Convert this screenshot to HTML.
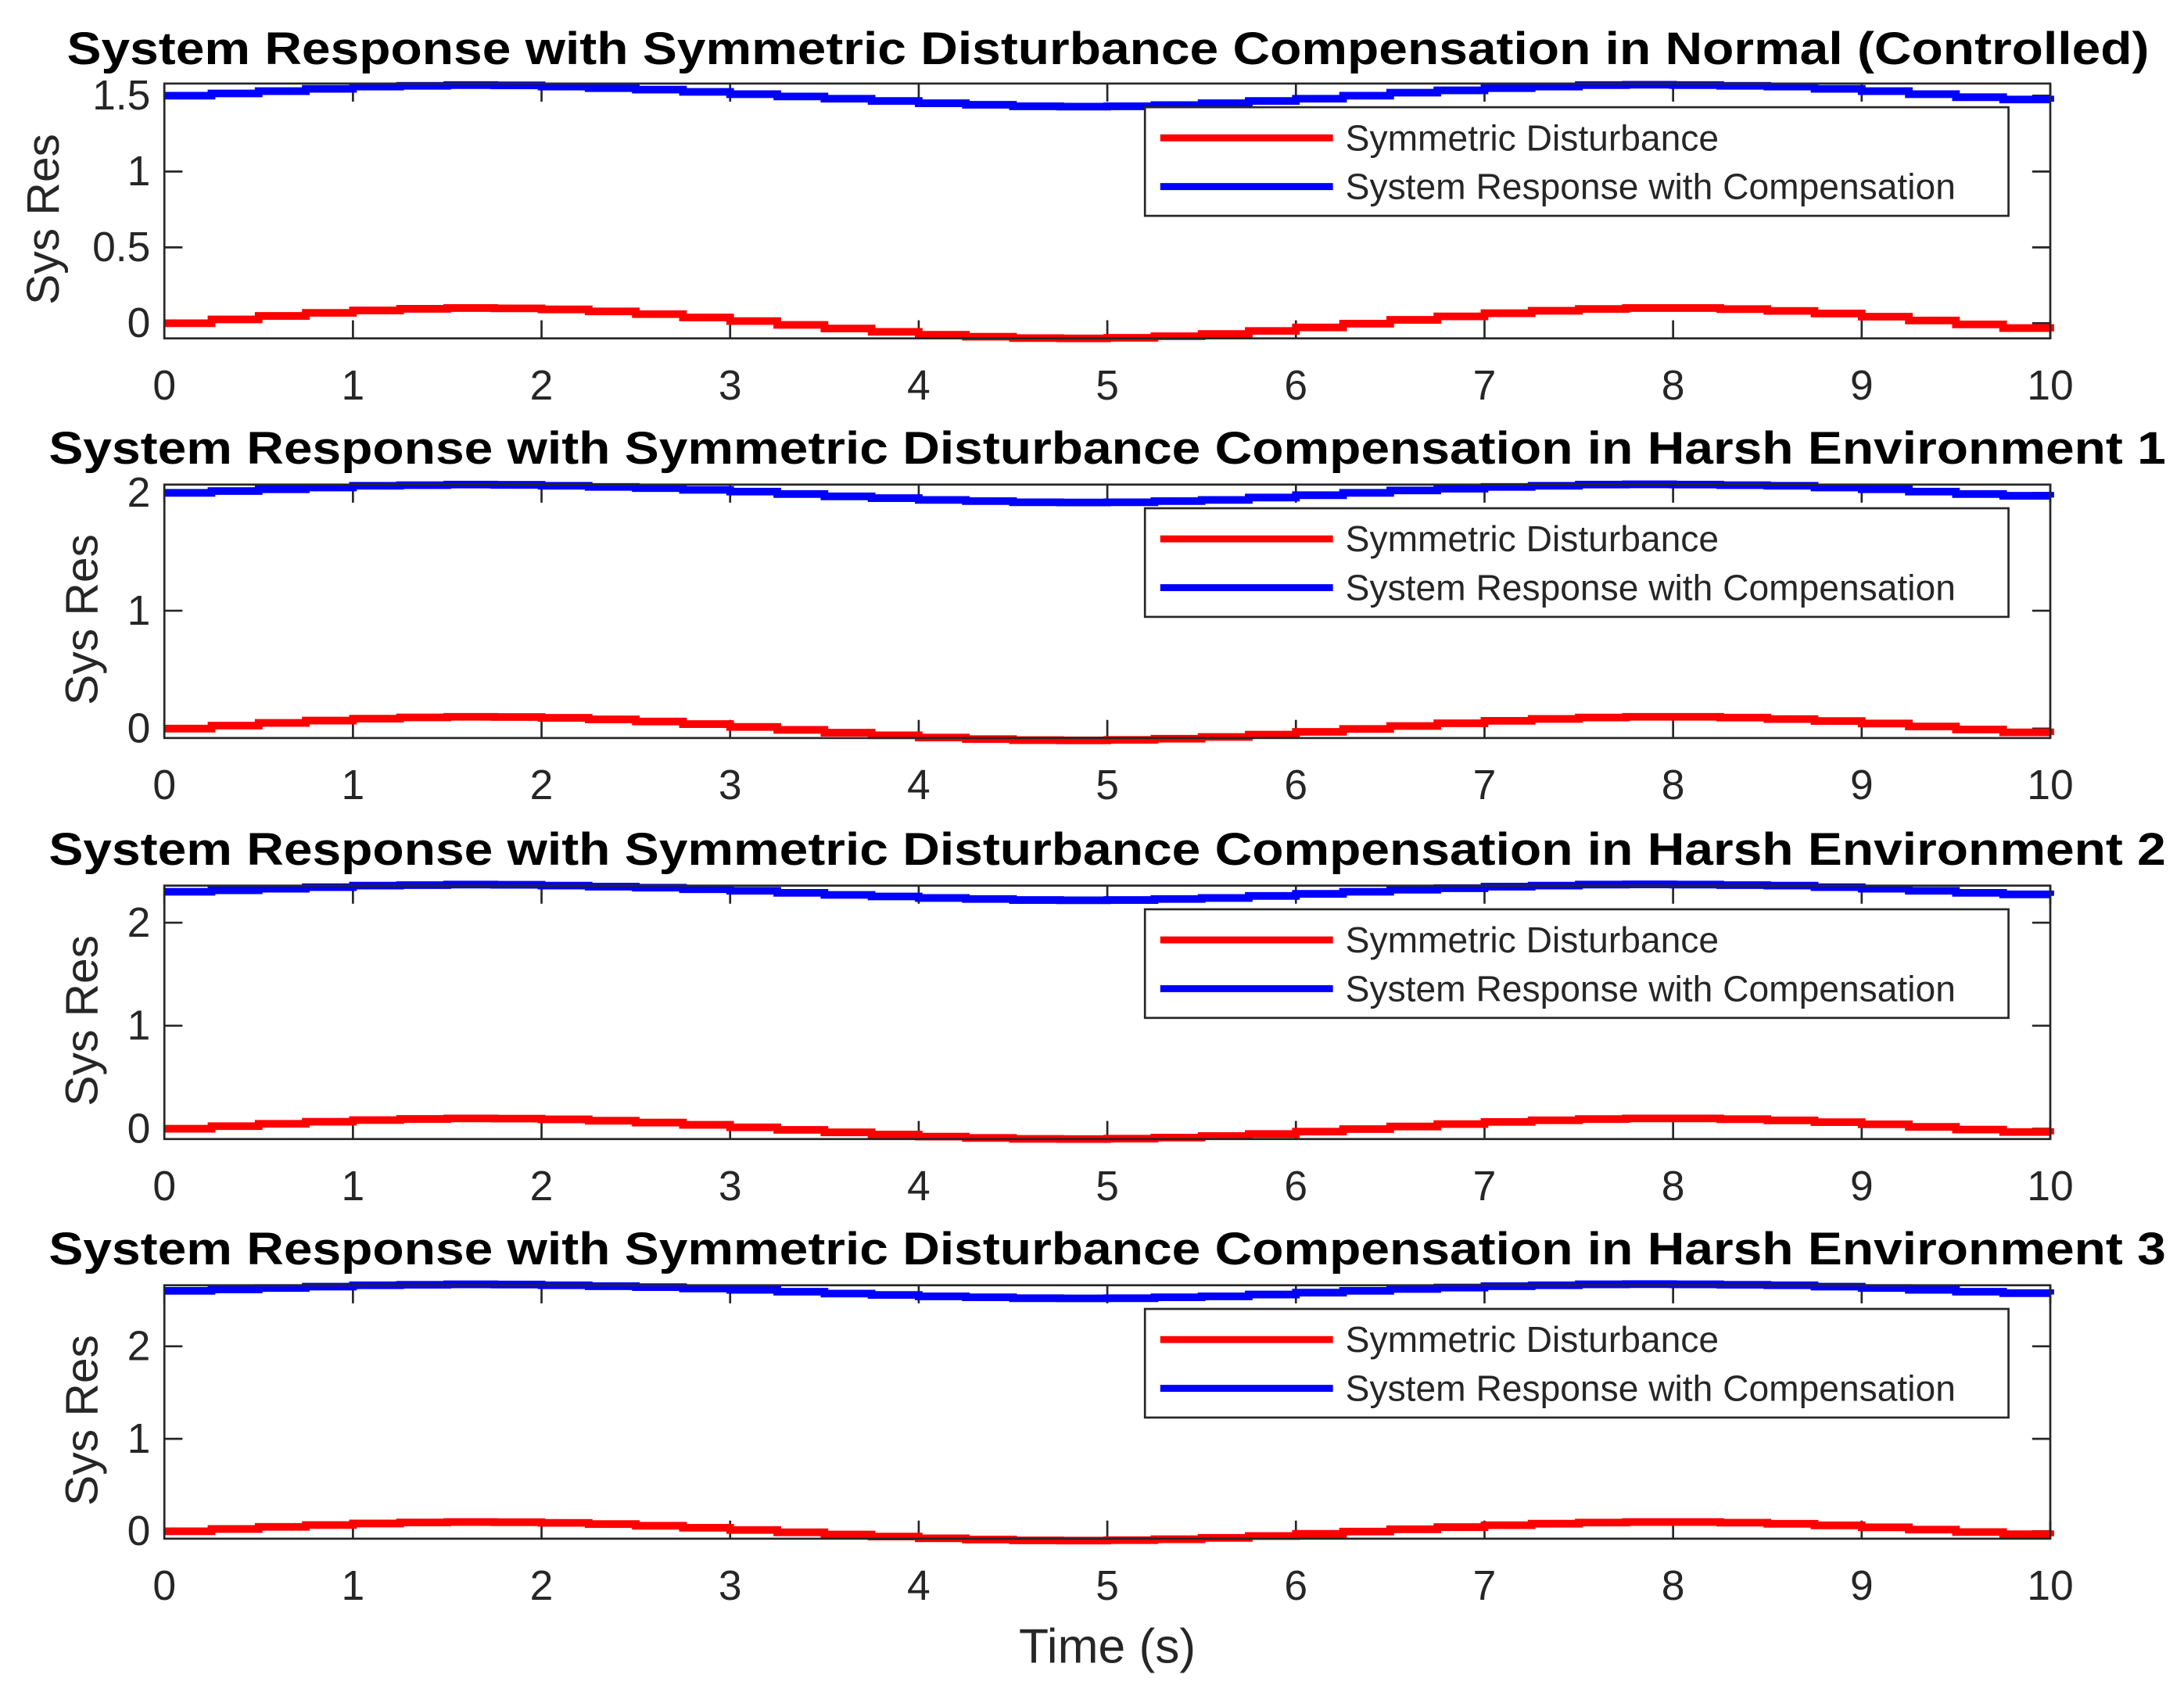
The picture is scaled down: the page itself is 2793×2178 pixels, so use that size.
<!DOCTYPE html>
<html><head><meta charset="utf-8"><style>
html,body{margin:0;padding:0;background:#fff;}
svg{display:block;}
text{font-family:"Liberation Sans",Arial,sans-serif;}
</style></head><body>
<svg id="fig" width="2793" height="2178" viewBox="0 0 1568 1223" preserveAspectRatio="none" xmlns="http://www.w3.org/2000/svg"></svg>
<script>
const timeValues = [0,0.25,0.5,0.75,1,1.25,1.5,1.75,2,2.25,2.5,2.75,3,3.25,3.5,3.75,4,4.25,4.5,4.75,5,5.25,5.5,5.75,6,6.25,6.5,6.75,7,7.25,7.5,7.75,8,8.25,8.5,8.75,9,9.25,9.5,9.75,10];
const disturbance = [0,0.025,0.048,0.068,0.084,0.095,0.1,0.098,0.091,0.078,0.06,0.038,0.014,-0.011,-0.035,-0.057,-0.076,-0.089,-0.098,-0.1,-0.096,-0.086,-0.071,-0.051,-0.028,-0.003,0.022,0.045,0.066,0.082,0.094,0.1,0.1,0.093,0.081,0.064,0.043,0.018,-0.008,-0.032,-0.054];
const response1 = [1.5,1.515,1.53,1.545,1.56,1.565,1.57,1.568,1.56,1.55,1.54,1.525,1.51,1.495,1.48,1.465,1.45,1.44,1.43,1.428,1.43,1.438,1.45,1.465,1.48,1.5,1.52,1.535,1.55,1.56,1.57,1.572,1.57,1.565,1.56,1.545,1.53,1.51,1.49,1.475,1.46];
const response2 = [2.0,2.015,2.03,2.045,2.06,2.065,2.07,2.068,2.06,2.05,2.04,2.025,2.01,1.99,1.97,1.955,1.94,1.93,1.92,1.918,1.92,1.93,1.94,1.96,1.98,2.0,2.02,2.035,2.05,2.06,2.07,2.072,2.07,2.065,2.06,2.045,2.03,2.01,1.99,1.975,1.96];
const response3 = [2.3,2.315,2.33,2.345,2.36,2.365,2.37,2.368,2.36,2.35,2.34,2.325,2.31,2.29,2.27,2.255,2.24,2.23,2.22,2.218,2.22,2.23,2.24,2.26,2.28,2.3,2.32,2.335,2.35,2.36,2.37,2.372,2.37,2.365,2.36,2.345,2.33,2.31,2.29,2.275,2.26];
const response4 = [2.6,2.615,2.63,2.645,2.66,2.665,2.67,2.668,2.66,2.65,2.64,2.625,2.61,2.59,2.57,2.555,2.54,2.53,2.52,2.518,2.52,2.53,2.54,2.56,2.58,2.6,2.62,2.635,2.65,2.66,2.67,2.672,2.67,2.665,2.66,2.645,2.63,2.61,2.59,2.575,2.56];
const xTicks = [0,1,2,3,4,5,6,7,8,9,10];
const panelTitles = ["System Response with Symmetric Disturbance Compensation in Normal (Controlled)","System Response with Symmetric Disturbance Compensation in Harsh Environment 1","System Response with Symmetric Disturbance Compensation in Harsh Environment 2","System Response with Symmetric Disturbance Compensation in Harsh Environment 3"];
const yTicks1 = [0,0.5,1,1.5];
const yTicks2 = [0,1,2];
const yLimits = [[-0.1,1.58],[-0.08,2.07],[-0.1,2.36],[-0.08,2.66]];

const NS="http://www.w3.org/2000/svg";
const svg=document.getElementById('fig');
function mk(tag,attrs,parent){const e=document.createElementNS(NS,tag);for(const k in attrs)e.setAttribute(k,attrs[k]);(parent||svg).appendChild(e);return e;}

const layouts=[
 {top:60,bottom:243,titleY:46,tickY:287,titleX:48,titleW:1495},
 {top:348,bottom:530,titleY:333,tickY:574,titleX:35,titleW:1520},
 {top:636,bottom:818,titleY:621,tickY:862,titleX:35,titleW:1520},
 {top:923,bottom:1105,titleY:908,tickY:1149,titleX:35,titleW:1520}
];
const responses=[response1,response2,response3,response4];
const yTickSets=[yTicks1,yTicks2,yTicks2,yTicks2];
const L=118,R=1472;

layouts.forEach((p,i)=>{
  const g=mk('g',{});
  
  
  const [y0,y1]=yLimits[i];
  const xs=t=>L+(t-0)/(10-0)*(R-L);
  const ys=v=>p.bottom-(v-y0)/(y1-y0)*(p.bottom-p.top);
  const t=mk('text',{x:p.titleX,y:p.titleY,'font-size':33,'font-weight':'bold',fill:'#000',textLength:p.titleW,lengthAdjust:'spacingAndGlyphs'},g);
  t.textContent=panelTitles[i];
  
  
  mk('rect',{x:L,y:p.top,width:R-L,height:p.bottom-p.top,fill:'#fff'},g);
  xTicks.forEach(v=>{
    const x=xs(v);
    mk('line',{x1:x,x2:x,y1:p.bottom,y2:p.bottom-13,stroke:'#262626','stroke-width':1.5},g);
    mk('line',{x1:x,x2:x,y1:p.top,y2:p.top+13,stroke:'#262626','stroke-width':1.5},g);
    const tl=mk('text',{x:x,y:p.tickY,'font-size':30,fill:'#262626','text-anchor':'middle'},g);
    tl.textContent=v;
    
    
  });
  yTickSets[i].forEach(v=>{
    const y=ys(v);
    mk('line',{x1:L,x2:L+13,y1:y,y2:y,stroke:'#262626','stroke-width':1.5},g);
    mk('line',{x1:R,x2:R-13,y1:y,y2:y,stroke:'#262626','stroke-width':1.5},g);
    const tl=mk('text',{x:L-10,y:y+10,'font-size':30,fill:'#262626','text-anchor':'end'},g);
    tl.textContent=v;
    
    
  });
  const yl=mk('text',{x:0,y:0,'font-size':33,fill:'#262626','text-anchor':'middle',transform:`translate(${i==0?42:70},${(p.top+p.bottom)/2+6}) rotate(-90)`},g);
  yl.textContent='Sys Res';
  
  
  function stairs(vals,color,name){
    let d='';
    timeValues.forEach((tv,k)=>{
      const x=xs(tv),y=ys(vals[k]);
      if(k==0)d+=`M${x},${y}`;else d+=`H${x}V${y}`;
    });
    const pth=mk('path',{d:d,fill:'none',stroke:color,'stroke-width':5.5},g);
    
    
  }
  stairs(disturbance,'#ff0000','disturbance-line');
  stairs(responses[i],'#0000ff','response-line');
  const box=mk('rect',{x:L,y:p.top,width:R-L,height:p.bottom-p.top,fill:'none',stroke:'#262626','stroke-width':1.5},g);
  
  
  const lg=mk('g',{},g);
  
  
  const ly=p.top+17;
  mk('rect',{x:822,y:ly,width:620,height:78,fill:'#fff',stroke:'#262626','stroke-width':1.5},lg);
  [['Symmetric Disturbance','#ff0000',22,268],['System Response with Compensation','#0000ff',57,438]].forEach(([lab,c,dy,tw])=>{
    mk('line',{x1:833,x2:957,y1:ly+dy,y2:ly+dy,stroke:c,'stroke-width':5},lg);
    const lt=mk('text',{x:966,y:ly+dy+9,'font-size':26,fill:'#262626',textLength:tw,lengthAdjust:'spacingAndGlyphs'},lg);
    lt.textContent=lab;
    
    
  });
});
const xl=mk('text',{x:795,y:1194,'font-size':35,fill:'#262626','text-anchor':'middle'});
xl.textContent='Time (s)';


</script>
</body></html>
